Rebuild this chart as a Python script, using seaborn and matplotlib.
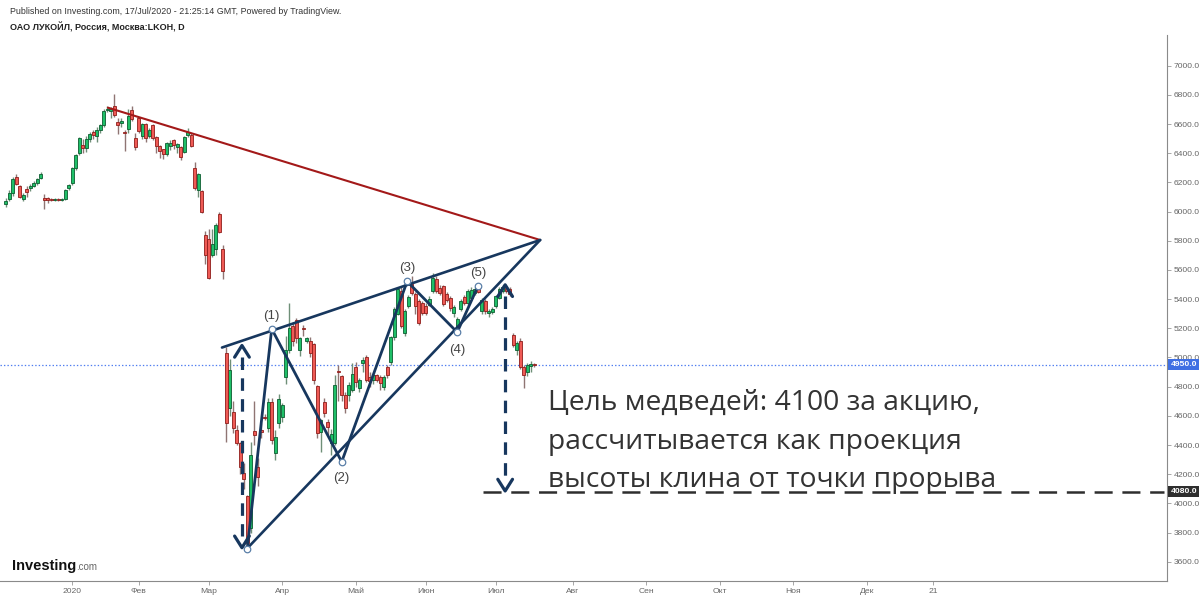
import numpy as np
import pandas as pd
import seaborn as sns
import matplotlib.pyplot as plt

# daily candles LKOH, Dec 2019 - 17 Jul 2020
opens = [6050, 6085, 6126, 6235, 6174, 6085, 6153, 6160, 6174, 6195, 6229,
         6092, 6090, 6082, 6078, 6088, 6080, 6085, 6160, 6195, 6297, 6399,
         6454, 6433, 6495, 6542, 6515, 6556, 6590, 6693, 6686, 6720, 6611,
         6604, 6540, 6563, 6693, 6502, 6638, 6515, 6597, 6515, 6590, 6508,
         6447, 6427, 6392, 6447, 6488, 6440, 6440, 6406, 6522, 6522, 6297,
         6147, 6140, 5840, 5812, 5703, 5744, 5983, 5744, 5030, 4652, 4625,
         4502, 4413, 4208, 4051, 3833, 4495, 4249, 4500, 4595, 4515, 4693,
         4345, 4549, 4590, 4863, 5048, 5219, 5260, 5048, 5200, 5116, 5116,
         5089, 4802, 4488, 4693, 4556, 4413, 4413, 4905, 4870, 4740, 4740,
         4775, 4932, 4788, 4959, 5000, 4863, 4843, 4877, 4863, 4795, 4932,
         4966, 5137, 5300, 5457, 5170, 5355, 5505, 5437, 5389, 5375, 5355,
         5362, 5457, 5540, 5478, 5491, 5437, 5410, 5307, 5212, 5334, 5416,
         5375, 5410, 5444, 5478, 5321, 5389, 5307, 5314, 5355, 5410, 5457,
         5478, 5471, 5157, 5048, 5116, 4932, 4898, 4940, 4955]
highs = [6095, 6150, 6235, 6256, 6185, 6125, 6175, 6190, 6210, 6232, 6270,
         6120, 6100, 6095, 6095, 6095, 6095, 6155, 6190, 6305, 6395, 6510,
         6500, 6520, 6545, 6560, 6580, 6600, 6700, 6720, 6715, 6809, 6640,
         6640, 6560, 6700, 6725, 6540, 6650, 6610, 6610, 6570, 6600, 6520,
         6455, 6430, 6480, 6490, 6495, 6470, 6450, 6515, 6570, 6540, 6340,
         6265, 6150, 5870, 5880, 5880, 5920, 6000, 5770, 5070, 4990, 4700,
         4540, 4420, 4280, 4060, 4420, 4700, 4310, 4550, 4610, 4720, 4720,
         4500, 4750, 4690, 5150, 5370, 5240, 5270, 5140, 5220, 5140, 5140,
         5100, 4810, 4580, 4720, 4580, 4510, 4880, 4950, 4880, 4760, 4830,
         4960, 4970, 4860, 5000, 5020, 4900, 4890, 4890, 4880, 4880, 4950,
         5150, 5345, 5480, 5480, 5330, 5430, 5560, 5450, 5400, 5390, 5370,
         5420, 5580, 5560, 5500, 5500, 5450, 5420, 5360, 5275, 5400, 5430,
         5470, 5480, 5480, 5490, 5410, 5400, 5330, 5345, 5430, 5480, 5495,
         5490, 5480, 5170, 5110, 5130, 4945, 4960, 4975, 4965]
lows = [6030, 6070, 6110, 6180, 6090, 6075, 6100, 6140, 6165, 6185, 6220,
        6020, 6060, 6070, 6070, 6072, 6075, 6080, 6150, 6185, 6285, 6390,
        6400, 6410, 6480, 6500, 6480, 6540, 6580, 6680, 6640, 6650, 6530,
        6580, 6415, 6540, 6620, 6420, 6540, 6500, 6480, 6505, 6490, 6400,
        6370, 6360, 6380, 6420, 6430, 6400, 6350, 6400, 6510, 6440, 6150,
        6100, 5990, 5640, 5540, 5690, 5700, 5850, 5540, 4420, 4600, 4480,
        4400, 4200, 4100, 3690, 3800, 4400, 4120, 4450, 4570, 4490, 4410,
        4300, 4520, 4560, 4820, 5030, 5080, 5100, 5010, 5150, 5100, 5000,
        4820, 4450, 4350, 4590, 4470, 4330, 4400, 4700, 4700, 4620, 4700,
        4760, 4800, 4760, 4900, 4830, 4800, 4820, 4830, 4780, 4780, 4860,
        4950, 5120, 5290, 5200, 5150, 5340, 5430, 5300, 5220, 5290, 5290,
        5350, 5440, 5440, 5430, 5350, 5380, 5320, 5280, 5175, 5320, 5360,
        5360, 5400, 5430, 5440, 5300, 5300, 5280, 5300, 5340, 5400, 5445,
        5445, 5420, 5070, 5020, 4920, 4790, 4870, 4900, 4935]
closes = [6072, 6126, 6222, 6188, 6099, 6113, 6133, 6172, 6195, 6222, 6256,
          6078, 6080, 6080, 6086, 6080, 6088, 6147, 6180, 6297, 6386, 6502,
          6433, 6495, 6530, 6522, 6556, 6590, 6686, 6706, 6700, 6659, 6590,
          6624, 6536, 6652, 6631, 6440, 6549, 6597, 6502, 6556, 6502, 6447,
          6413, 6392, 6467, 6467, 6454, 6460, 6372, 6508, 6542, 6447, 6160,
          6256, 5997, 5703, 5546, 5778, 5908, 5860, 5594, 4548, 4911, 4515,
          4413, 4249, 4167, 3730, 4331, 4468, 4180, 4490, 4585, 4693, 4433,
          4454, 4713, 4672, 5048, 5205, 5116, 5130, 5130, 5195, 5130, 5034,
          4843, 4481, 4570, 4618, 4522, 4474, 4809, 4900, 4740, 4652, 4809,
          4884, 4829, 4843, 4980, 4843, 4836, 4877, 4843, 4822, 4863, 4877,
          5137, 5334, 5470, 5218, 5321, 5416, 5444, 5355, 5239, 5307, 5307,
          5403, 5546, 5457, 5444, 5368, 5396, 5340, 5348, 5266, 5389, 5375,
          5457, 5464, 5471, 5450, 5396, 5321, 5321, 5334, 5423, 5471, 5485,
          5457, 5437, 5082, 5102, 4932, 4877, 4945, 4955, 4950]

month_labels = ["2020", "Фев", "Мар", "Апр", "Май", "Июн", "Июл",
                "Авг", "Сен", "Окт", "Ноя", "Дек", "21"]
month_bars = [19, 38, 58, 79, 100, 120, 140, 162, 183, 204, 225, 246, 265]
price_ticks = np.arange(3600, 7001, 200)
last_price = 4950
target_price = 4080

# wave count (bar index, price)
wave_bars = [69, 76, 96, 114.7, 129, 134.9]
wave_prices = [3688, 5196, 4285, 5521, 5173, 5487]
wave_names = ["", "(1)", "(2)", "(3)", "(4)", "(5)"]
wave_label_dy = [0, 13, -16, 13, -18, 13]

upper_bars, upper_prices = [61.8, 152.7], [5068, 5805]
lower_bars, lower_prices = [68.9, 152.7], [3689, 5805]
trend_bars, trend_prices = [29.2, 152.7], [6712, 5805]

# measured-move arrows: (bar, top, bottom)
left_arrow = (67.5, 5082, 3696)
right_arrow = (142.7, 5498, 4085)
target_from_bar = 136.4

note = ["Цель медведей: 4100 за акцию,",
        "рассчитывается как проекция",
        "высоты клина от точки прорыва"]

sns.set_theme(style="white")
plt.rcParams['font.family'] = ['Liberation Sans', 'DejaVu Sans']
plt.rcParams['lines.scale_dashes'] = False

df = pd.DataFrame({"o": opens, "h": highs, "l": lows, "c": closes})
df["bar"] = np.arange(len(df))
df["up"] = df["c"] >= df["o"]

fig = plt.figure(figsize=(12, 5.96), dpi=100)
ax = fig.add_axes([0, 15 / 596, 1167 / 1200, 546 / 596])

navy = "#17375e"
up_col, up_edge = "#1fbf68", "#0d5c30"
dn_col, dn_edge = "#ef5a55", "#8f1d1a"

# wicks then bodies
for up, fc, ec, wc in [(True, up_col, up_edge, "#6f8f78"), (False, dn_col, dn_edge, "#8f7573")]:
    d = df[df["up"] == up]
    ax.vlines(d["bar"], d["l"], d["h"], color=wc, lw=1.0, zorder=2)
    body = (d["c"] - d["o"]).abs().clip(lower=6)
    ax.bar(d["bar"], body, bottom=d[["o", "c"]].min(axis=1), width=0.76,
           color=fc, edgecolor=ec, linewidth=0.6, zorder=3)

# last price dotted line
ax.axhline(last_price, color="#4f7df0", lw=0.9, ls=(0, (1, 1.5)), zorder=1)

# trend lines
ax.plot(trend_bars, trend_prices, color="#a31919", lw=1.5, zorder=4)
ax.plot(upper_bars, upper_prices, color=navy, lw=1.9, zorder=4)
ax.plot(lower_bars, lower_prices, color=navy, lw=1.9, zorder=4)
ax.plot(wave_bars, wave_prices, color=navy, lw=2.0, zorder=4)
sns.scatterplot(x=wave_bars, y=wave_prices, ax=ax, s=22, color="white",
                edgecolor="#5a7fa8", linewidth=0.9, zorder=5, legend=False)
for b, p, name, dy in zip(wave_bars, wave_prices, wave_names, wave_label_dy):
    if name:
        ax.annotate(name, (b, p), xytext=(0, dy), textcoords="offset pixels",
                    ha="center", va="center", fontsize=9.5, color="#444444", zorder=6)

# arrows
for bar, top, bot in [left_arrow, right_arrow]:
    ax.plot([bar, bar], [top - 80, bot + 80], color=navy, lw=2.3,
            ls=(0, (9, 6)), zorder=4)
    ax.plot([bar - 2.1, bar, bar + 2.1], [top - 80, top, top - 80],
            color=navy, lw=2.3, zorder=4, solid_capstyle="round")
    ax.plot([bar - 2.1, bar, bar + 2.1], [bot + 80, bot, bot + 80],
            color=navy, lw=2.3, zorder=4, solid_capstyle="round")

# target line
ax.plot([target_from_bar, 331], [target_price, target_price], color="#2e2e2e",
        lw=1.8, ls=(0, (13, 7)), zorder=4)

ax.set_xlim(-1.63, 331.8)
ax.set_ylim(3468, 7210)

ax.yaxis.tick_right()
ax.set_yticks(price_ticks)
ax.set_yticklabels([f"{v:.1f}" for v in price_ticks])
ax.set_xticks(month_bars)
ax.set_xticklabels(month_labels)
ax.tick_params(axis="both", length=3, width=0.6, color="#999999",
               labelsize=6.1, labelcolor="#666666", pad=2)
ax.tick_params(axis="y", right=True, left=False)
ax.tick_params(axis="x", bottom=True)
for s in ["top", "left"]:
    ax.spines[s].set_visible(False)
for s in ["bottom", "right"]:
    ax.spines[s].set_color("#8a8a8a")
    ax.spines[s].set_linewidth(0.8)

# price tags on the axis
ytr = ax.get_yaxis_transform()
ax.text(1.003, last_price, f"{last_price:.1f}", transform=ytr, fontsize=6.1,
        color="white", fontweight="bold", va="center", ha="left", zorder=10,
        bbox=dict(boxstyle="square,pad=0.25", fc="#3f6fe3", ec="none"), clip_on=False)
ax.text(1.003, target_price, f"{target_price:.1f}", transform=ytr, fontsize=6.1,
        color="white", fontweight="bold", va="center", ha="left", zorder=10,
        bbox=dict(boxstyle="square,pad=0.25", fc="#2e2e2e", ec="none"), clip_on=False)

# headline text
fig.text(10 / 1200, 1 - 11 / 596, "Published on Investing.com, 17/Jul/2020 - 21:25:14 GMT, Powered by TradingView.",
         fontsize=6.4, color="#333333", va="center")
fig.text(10 / 1200, 1 - 27 / 596, "ОАО ЛУКОЙЛ, Россия, Москва:LKOH, D",
         fontsize=6.5, color="#222222", fontweight="bold", va="center")

for i, line in enumerate(note):
    fig.text(548 / 1200, 1 - (403 + 38.5 * i) / 596, line, fontsize=20.3,
             color="#333333", va="center", family=["Open Sans", "DejaVu Sans"])

# logo
fig.text(12 / 1200, 1 - 566 / 596, "Investing", fontsize=10.5, fontweight="bold",
         color="#111111", va="center")
fig.text(76 / 1200, 1 - 567 / 596, ".com", fontsize=7, color="#666666", va="center")

fig.savefig("out.png", dpi=100)
